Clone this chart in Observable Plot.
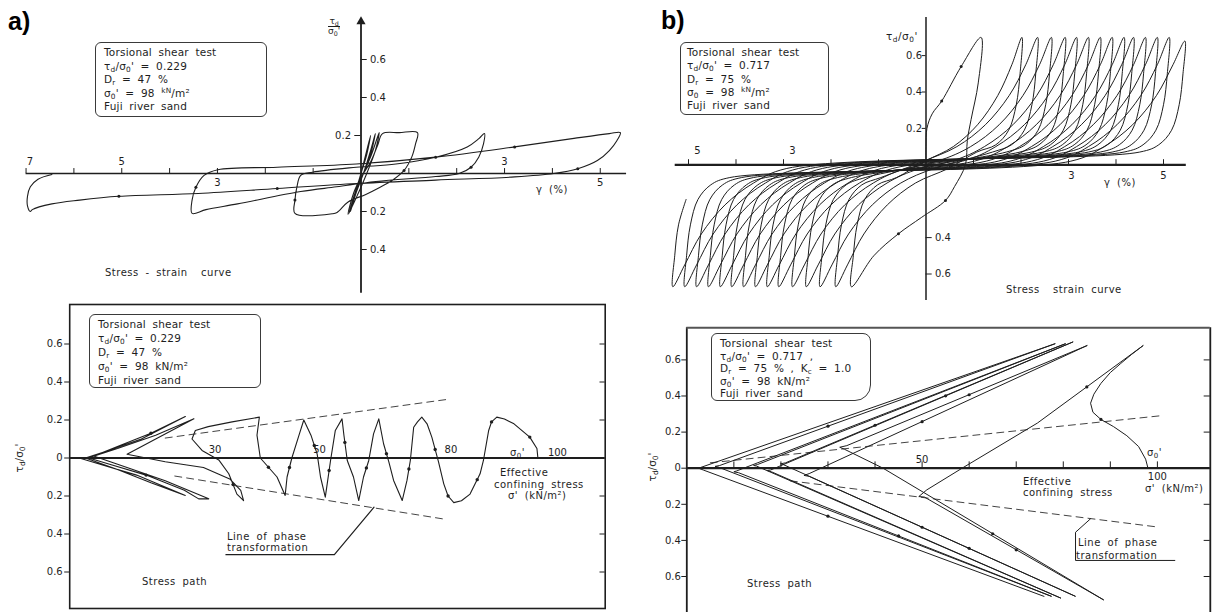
<!DOCTYPE html>
<html>
<head>
<meta charset="utf-8">
<script src="https://cdn.jsdelivr.net/npm/d3@7"></script>
<script src="https://cdn.jsdelivr.net/npm/@observablehq/plot@0.6"></script>
<style>
html, body { margin: 0; padding: 0; background: #fff; }
#fig { position: relative; width: 1215px; height: 612px; overflow: hidden; background: #fff; color: #1e1e1e; font-family: "DejaVu Sans", sans-serif; }
#fig svg { position: absolute; overflow: visible; }
.tag { position: absolute; font: bold 25px "Liberation Sans", Arial, sans-serif; color: #000; line-height: 1; }
.box { position: absolute; box-sizing: border-box; border: 1.3px solid #3a3a3a; border-radius: 6px; font-size: 10.5px; line-height: 13.6px; padding: 3px 0 0 8px; word-spacing: 3px; letter-spacing: 0.2px; white-space: nowrap; background: #fff; }
.lbl { position: absolute; font-size: 10px; white-space: nowrap; line-height: 1; letter-spacing: 0.5px; word-spacing: 3px; transform: translateY(-50%); }
.rot { position: absolute; font-size: 10.5px; white-space: nowrap; line-height: 1; transform: translate(-50%, -50%) rotate(-90deg); }
.frac { position: absolute; font-size: 9px; line-height: 9px; text-align: center; }
.frac .den { border-top: 1px solid #1e1e1e; }
sub, sup { font-size: 70%; line-height: 0; }
sub { vertical-align: -2px; }
sup { vertical-align: 4px; }
</style>
</head>
<body>
<div id="fig">
  <div class="tag" style="left:8px;top:9px">a)</div>
  <div class="tag" style="left:661px;top:8px">b)</div>

  <div class="box" style="left:95px;top:42px;width:172px;height:75px">
    Torsional shear test<br>τ<sub>d</sub>/σ<sub>0</sub>' = 0.229<br>D<sub>r</sub> = 47 %<br>σ<sub>0</sub>' = 98 <sup>kN</sup>/m²<br>Fuji river sand
  </div>
  <div class="box" style="left:680px;top:42px;width:149px;height:73px;line-height:13.3px;padding-left:6px">
    Torsional shear test<br>τ<sub>d</sub>/σ<sub>0</sub>' = 0.717<br>D<sub>r</sub> = 75 %<br>σ<sub>0</sub> = 98 <sup>kN</sup>/m²<br>Fuji river sand
  </div>
  <div class="box" style="left:89px;top:314px;width:172px;height:74px;line-height:13.9px">
    Torsional shear test<br>τ<sub>d</sub>/σ<sub>0</sub>' = 0.229<br>D<sub>r</sub> = 47 %<br>σ<sub>0</sub>' = 98 kN/m²<br>Fuji river sand
  </div>
  <div class="box" style="left:711px;top:333px;width:160px;height:68px;line-height:12.6px;border-radius:6px 8px 16px 6px">
    Torsional shear test<br>τ<sub>d</sub>/σ<sub>0</sub>' = 0.717 ,<br>D<sub>r</sub> = 75 % , K<sub>c</sub> = 1.0<br>σ<sub>0</sub>' = 98 kN/m²<br>Fuji river sand
  </div>

  <div class="frac" style="left:328px;top:17px"><div>τ<sub>d</sub></div><div class="den">σ<sub>0</sub>'</div></div>
  <div class="lbl" style="left:886px;top:36px;font-size:10.5px">τ<sub>d</sub>/σ<sub>0</sub>'</div>
  <div class="rot" style="left:19px;top:458px">τ<sub>d</sub>/σ<sub>0</sub>'</div>
  <div class="rot" style="left:652px;top:467px">τ<sub>d</sub>/σ<sub>0</sub>'</div>

  <div class="lbl" style="left:536px;top:190px">γ (%)</div>
  <div class="lbl" style="left:1104px;top:183px">γ (%)</div>
  <div class="lbl" style="left:105px;top:273px">Stress - strain&nbsp; curve</div>
  <div class="lbl" style="left:1006px;top:290px">Stress&nbsp; strain curve</div>

  <div class="lbl" style="left:142px;top:582px">Stress path</div>
  <div class="lbl" style="left:227px;top:537px">Line of phase</div>
  <div class="lbl" style="left:227px;top:548px">transformation</div>
  <div class="lbl" style="left:500px;top:473px">Effective</div>
  <div class="lbl" style="left:494px;top:485px">confining stress</div>
  <div class="lbl" style="left:508px;top:496px">σ' (kN/m²)</div>
  <div class="lbl" style="left:510px;top:453px">σ<sub>0</sub>'</div>

  <div class="lbl" style="left:747px;top:584px">Stress path</div>
  <div class="lbl" style="left:1078px;top:543px">Line of phase</div>
  <div class="lbl" style="left:1076px;top:556px">transformation</div>
  <div class="lbl" style="left:1023px;top:482px">Effective</div>
  <div class="lbl" style="left:1023px;top:493px">confining stress</div>
  <div class="lbl" style="left:1145px;top:489px">σ' (kN/m²)</div>
  <div class="lbl" style="left:1147px;top:453px">σ<sub>0</sub>'</div>
</div>

<script>
// ---------- test a: stress-strain record (shear strain γ %, stress ratio τd/σ0') ----------
const strainCurveA = [
  [0,0],[0.1,0.1],[0.2,0.2],[0.12,0.1],[0,0],[-0.12,-0.1],[-0.22,-0.2],
  [-0.1,-0.1],[0.05,0],[0.2,0.12],[0.3,0.21],
  [0.2,0.1],[0.05,0],[-0.1,-0.1],[-0.25,-0.21],
  [-0.12,-0.1],[0.05,0],[0.22,0.1],[0.38,0.215],
  [0.3,0.12],[0.12,0],[-0.05,-0.1],[-0.27,-0.215],
  [-0.15,-0.1],[0,-0.02],[0.2,0.06],[0.35,0.15],[0.45,0.21],[0.8,0.215],[1.18,0.215],
  [1.14,0.156],[1.06,0.086],[0.9,0.016],[0.65,-0.037],[0.4,-0.072],[0.1,-0.11],[-0.27,-0.15],[-0.5,-0.205],[-0.6,-0.212],[-1.38,-0.21],
  [-1.38,-0.14],[-1.34,-0.072],[-1.26,-0.01],[-1.01,0.007],[-0.1,0.033],[0.73,0.05],[1.56,0.086],[2.22,0.14],[2.47,0.185],[2.58,0.21],
  [2.56,0.156],[2.46,0.086],[2.3,0.033],[2.05,0],[1.56,-0.016],[0.31,-0.042],[-0.51,-0.07],[-1.26,-0.095],[-2.58,-0.16],[-3.24,-0.19],[-3.53,-0.21],
  [-3.53,-0.14],[-3.45,-0.072],[-3.28,-0.01],[-2.99,0.02],[-1.75,0.033],[-0.1,0.05],[1.56,0.086],[3.21,0.14],[4.45,0.185],[5.19,0.21],[5.42,0.215],
  [5.35,0.174],[5.19,0.121],[4.94,0.068],[4.53,0.025],[4.03,0],[3.21,-0.018],[1.56,-0.035],[-0.1,-0.053],[-1.75,-0.079],[-3.4,-0.105],[-5.06,-0.12],[-5.88,-0.14],[-6.46,-0.16],[-6.87,-0.19],[-6.91,-0.2],
  [-6.97,-0.17],[-6.97,-0.12],[-6.91,-0.07],[-6.75,-0.03],[-6.46,-0.005]
];
const strainArrowsA = [[-5.06,-0.12],[-1.75,-0.079],[1.56,0.086],[3.21,0.14],[-1.38,-0.14],[2.3,0.033],[0.9,0.016],[-3.45,-0.072],[4.53,0.025]];
const strainTicksA = [-7,-6,-5,-4,-3,-2,-1,1,2,3,4,5];
const strainLabelsAbove = [-7,-5,3];
const strainLabelsBelow = [-3,5];
const ratioTicksRightA = [0.6,0.4,-0.2,-0.4];
const ratioTicksLeftA = [0.2];

// ---------- test b: stress-strain record ----------
const firstLoadingB = [[0,0],[0,0.1],[0.02,0.2],[0.13,0.28],[0.33,0.35],[0.74,0.54],[1.16,0.70]];
const firstUnloadingB = [[1.16,0.70],[1.1,0.45],[0.95,0.25],[0.87,0.134],[0.83,0],[0.6,-0.12],[0.41,-0.196],[-0.1,-0.29],[-0.58,-0.379],[-1.1,-0.5],[-1.57,-0.67]];
const peakStrainB   = [1.16, 2.02, 2.35, 2.64, 2.93, 3.17, 3.42, 3.67, 3.92, 4.17, 4.37, 4.62, 4.87, 5.12, 5.45];
const peakRatioB    = [0.70, 0.70, 0.70, 0.70, 0.70, 0.70, 0.70, 0.70, 0.70, 0.70, 0.70, 0.70, 0.70, 0.70, 0.68];
const troughStrainB = [-1.57, -1.90, -2.23, -2.52, -2.81, -3.10, -3.34, -3.59, -3.84, -4.09, -4.33, -4.58, -4.83, -5.08, -5.33];
const troughRatioB  = [-0.67, -0.67, -0.67, -0.67, -0.67, -0.67, -0.67, -0.67, -0.67, -0.67, -0.67, -0.67, -0.67, -0.67, -0.67];
// shape of one half-cycle: stiff unloading after a reversal, flow near zero stress, stiffening into the next reversal
const unloadStepB   = [0, 0.04, 0.12, 0.28, 0.55, 0.95];
const unloadRatioB  = [null, 0.50, 0.33, 0.19, 0.11, 0.07];
const stiffenStepB  = [2.4, 1.7, 1.1, 0.6, 0.25, 0];
const stiffenRatioB = [0.02, 0.10, 0.22, 0.38, 0.55, null];
const strainArrowsB = [[0.33,0.35],[-0.58,-0.379],[0.41,-0.196],[0.74,0.54]];
const strainTicksB = [-5,-4,-3,-2,-1,1,2,3,4,5];
const strainLabelsAboveB = [-5,-3];
const strainLabelsBelowB = [3,5];
const ratioTicksLeftB = [0.6,0.4,0.2];
const ratioTicksRightB = [-0.4,-0.6];

// ---------- test a: effective stress path (σ' kN/m², τd/σ0') ----------
const stressPathA = [
  [98,0],[97.8,0.05],[96.3,0.11],[93,0.18],[91,0.205],[89.4,0.215],
  [88.3,0.19],[87.7,0.145],[86.6,-0.013],[85.9,-0.083],[83.8,-0.19],[82,-0.225],[80.4,-0.235],
  [79.2,-0.2],[78.3,-0.136],[77.2,-0.02],[75.8,0.11],[74.8,0.18],[73.7,0.215],
  [72.8,0.19],[72,0.162],[71.3,-0.013],[70.6,-0.118],[69.6,-0.224],
  [67.8,-0.118],[66.8,-0.02],[65.7,0.075],[64.7,0.206],
  [63.6,0.127],[62.6,-0.013],[61.5,-0.1],[60.5,-0.224],
  [59.4,-0.1],[58.1,-0.013],[57.4,0.12],[57,0.206],
  [55.6,0.145],[54.6,-0.013],[53.9,-0.136],[53.5,-0.206],
  [52.5,-0.1],[51.8,0.02],[50.5,0.12],[49,0.2],
  [48,0.12],[46.5,0],[45.5,-0.1],[45.1,-0.197],
  [43.4,-0.1],[39.9,0],[39.2,0.12],[39.7,0.215],
  [34,0.19],[29,0.165],[26.3,0.145],[25.6,0.1],[27.7,0.04],[31.2,-0.01],[33.3,-0.083],[35,-0.19],[36.4,-0.224],
  [35.8,-0.17],[33.5,-0.11],[28,-0.05],[20,-0.02],[12,0.02],[18,0.1],[26,0.206],
  [18,0.12],[10,0.05],[5,0.01],[12,-0.05],[20,-0.12],[29.1,-0.215],
  [27,-0.215],[24,-0.17],[16,-0.09],[8,-0.03],[4,0],[10,0.06],[17,0.13],[24.2,0.218],
  [15,0.1],[7,0.03],[3.3,0],[10,-0.06],[17,-0.13],[24.2,-0.197],
  [14,-0.09],[6,-0.03],[2,0],[0,0]
];
const pathArrowsA = [[96.3,0.11],[85.3,-0.114],[76.5,0.045],[71,-0.058],[66.3,0.023],[62.1,-0.052],[57.6,0.082],[54.3,-0.066],[51.2,0.066],[46,-0.05],[41.6,-0.049],[34.2,-0.14],[16,-0.09],[17,0.13],[88.3,0.19],[79.2,-0.2]];
const phaseLineUpperA = [[20,0.105],[79.5,0.31]];
const phaseLineLowerA = [[22,-0.095],[78,-0.32]];
const phaseLeaderA = [[32.7,-0.509],[55.4,-0.509],[63.7,-0.259]];
const pathTicksYA = [0.6,0.4,0.2,0,-0.2,-0.4,-0.6];
const pathLabelsXA = [30,50,80,100];

// ---------- test b: effective stress path ----------
const stressPathB = [
  [98,0],[97.5,0.05],[96,0.12],[93.5,0.18],[90.7,0.23],[88,0.27],[86.3,0.31],[85.8,0.36],[86.5,0.41],[88,0.47],[90,0.53],[92.2,0.58],[94.5,0.63],[97,0.68],
  [74.5,0.25],[58.5,0],[51,-0.12],[49.3,-0.157],[50.5,-0.16],[88.6,-0.73],
  [41.7,0],[33.5,0.105],[32.5,0.116],[34,0.125],[85.1,0.68],
  [26,-0.03],[24.9,-0.04],[26,-0.045],[82.6,-0.71],
  [20.5,0.02],[19.9,0.024],[21,0.03],[82.1,0.70],
  [17.8,-0.01],[17.1,-0.013],[18,-0.02],[79.5,-0.72],
  [14.8,0.012],[14.2,0.015],[15,0.02],[80.5,0.69],
  [10.6,-0.015],[10,-0.02],[11,-0.025],[77.5,-0.71],
  [6.5,0.008],[6,0.01],[7,0.015],[78.3,0.69],
  [2.5,0],[3.5,-0.01],[75.9,-0.71]
];
const pathArrowsB = [[60,0.407],[50,0.258],[40,0.238],[55,0.401],[30,0.233],[70,-0.452],[65,-0.363],[50,-0.327],[60,-0.444],[45,-0.375],[30,-0.266],[85,0.45],[88,0.27]];
const phaseLineUpperB = [[5,0.03],[100.5,0.29]];
const phaseLineLowerB = [[22,-0.07],[100.4,-0.327]];
const phaseLeaderB = [[85.8,-0.28],[82.6,-0.355],[82.6,-0.511],[103.7,-0.511]];
const pathTicksYB = [0.6,0.4,0.2,0,-0.2,-0.4,-0.6];
const pathTicksXB = [10,20,30,40,50,60,70,80,90,100];
const pathLabelsXB = [50,100];

// ---------- drawing ----------
const fig = document.getElementById("fig");
const ink = "#1e1e1e";
const px = d => d[0], py = d => d[1];
const absFmt = d => d === 0 ? "0" : Math.abs(d).toFixed(1);
const plotStyle = {background: "transparent", fontFamily: "DejaVu Sans, sans-serif", fontSize: "10px", color: ink, overflow: "visible"};

function put(svg, left, top) {
  svg.style.left = left + "px";
  svg.style.top = top + "px";
  fig.append(svg);
}
// scales for a panel whose origin sits at (ox, oy) inside a w×h svg, with kx, ky pixels per unit
function originScales(w, h, ox, oy, kx, ky) {
  return {
    x: {type: "linear", domain: [-ox / kx, (w - ox) / kx], range: [0, w], axis: null},
    y: {type: "linear", domain: [(oy - h) / ky, oy / ky], range: [h, 0], axis: null}
  };
}
// one text mark per tick value along the horizontal axis, each nudged by its own offset
function axisLabels(values, dxOf, dyOf) {
  return values.map(v => Plot.text([v], {x: d => d, y: 0, text: d => String(Math.abs(d)), dx: dxOf(v), dy: dyOf(v), fill: ink}));
}

// one half-cycle of test b, from reversal (g0,t0) to reversal (g1,t1)
function halfCycle(g0, t0, g1, t1) {
  const dir = Math.sign(g1 - g0), s = Math.sign(t0);
  const pts = unloadStepB.map((d, i) => [g0 + dir * d, i === 0 ? t0 : s * unloadRatioB[i]]);
  const room = Math.abs(g1 - g0) - unloadStepB[unloadStepB.length - 1] - 0.6;
  const k = Math.max(0.3, Math.min(1, room / stiffenStepB[0]));
  stiffenStepB.forEach((d, i) => pts.push([g1 - dir * d * k, i === stiffenStepB.length - 1 ? t1 : -s * stiffenRatioB[i]]));
  return pts;
}
const strainCurveB = [...firstLoadingB, ...firstUnloadingB.slice(1)];
for (let i = 1; i < peakStrainB.length; i++) {
  strainCurveB.push(...halfCycle(troughStrainB[i - 1], troughRatioB[i - 1], peakStrainB[i], peakRatioB[i]).slice(1));
  strainCurveB.push(...halfCycle(peakStrainB[i], peakRatioB[i], troughStrainB[i], troughRatioB[i]).slice(1));
}
{
  const n = troughStrainB.length - 1;
  unloadStepB.slice(1, 4).forEach((d, i) => strainCurveB.push([troughStrainB[n] + d, -unloadRatioB[i + 1]]));
}

// panel a, stress-strain
{
  const s = originScales(640, 300, 360.5, 173, 47.85, 190);
  put(Plot.plot({
    width: 640, height: 300, margin: 0, style: plotStyle, ...s,
    marks: [
      Plot.ruleY([0], {x1: -7.0, x2: 5.55, stroke: ink, strokeWidth: 1.4}),
      Plot.ruleX([0], {y1: -0.63, y2: 0.79, stroke: ink, strokeWidth: 1.8}),
      Plot.dot([[0, 0.8]], {x: px, y: py, symbol: "triangle", r: 3.4, fill: ink, stroke: "none"}),
      Plot.ruleX(strainTicksA, {y1: 0, y2: 0.026, stroke: ink, strokeWidth: 1}),
      Plot.ruleY(ratioTicksRightA, {x1: 0, x2: 0.13, stroke: ink, strokeWidth: 1}),
      Plot.ruleY(ratioTicksLeftA, {x1: -0.13, x2: 0, stroke: ink, strokeWidth: 1}),
      Plot.text(ratioTicksRightA, {x: 0, y: d => d, text: absFmt, dx: 9, textAnchor: "start", fill: ink}),
      Plot.text(ratioTicksLeftA, {x: 0, y: d => d, text: absFmt, dx: -10, textAnchor: "end", fill: ink}),
      ...axisLabels(strainLabelsAbove, v => v === -7 ? 4 : 0, () => -12),
      ...axisLabels(strainLabelsBelow, () => 0, () => 9),
      Plot.line(strainCurveA, {x: px, y: py, stroke: ink, strokeWidth: 1.1, curve: "catmull-rom"}),
      Plot.dot(strainArrowsA, {x: px, y: py, r: 1.5, fill: ink, stroke: "none"})
    ]
  }), 0, 0);
}

// panel b, stress-strain
{
  const s = originScales(575, 305, 285.5, 164.3, 47.5, 182);
  put(Plot.plot({
    width: 575, height: 305, margin: 0, style: plotStyle, ...s,
    marks: [
      Plot.line(strainCurveB, {x: px, y: py, stroke: ink, strokeWidth: 1, curve: "catmull-rom"}),
      Plot.dot(strainArrowsB, {x: px, y: py, r: 1.5, fill: ink, stroke: "none"}),
      Plot.ruleY([0], {x1: -5.28, x2: 5.48, stroke: ink, strokeWidth: 2.2}),
      Plot.ruleX([0], {y1: -0.746, y2: 0.809, stroke: ink, strokeWidth: 1.5}),
      Plot.ruleX(strainTicksB, {y1: 0, y2: 0.028, stroke: ink, strokeWidth: 1}),
      Plot.ruleY(ratioTicksLeftB, {x1: -0.08, x2: 0, stroke: ink, strokeWidth: 1}),
      Plot.ruleY(ratioTicksRightB, {x1: 0, x2: 0.13, stroke: ink, strokeWidth: 1}),
      Plot.text(ratioTicksLeftB, {x: 0, y: d => d, text: absFmt, dx: -4, textAnchor: "end", fill: ink}),
      Plot.text(ratioTicksRightB, {x: 0, y: d => d, text: absFmt, dx: 9, textAnchor: "start", fill: ink}),
      ...axisLabels(strainLabelsAboveB, () => 9, () => -14),
      ...axisLabels(strainLabelsBelowB, v => v === 3 ? 3 : 0, () => 11)
    ]
  }), 640, 0);
}

// panel a, stress path
{
  put(Plot.plot({
    width: 620, height: 322, marginLeft: 69.2, marginRight: 15.3, marginTop: 14, marginBottom: 4, style: plotStyle,
    x: {type: "linear", domain: [0, 112.09], axis: null},
    y: {type: "linear", domain: [-0.7921, 0.8079], axis: null},
    marks: [
      Plot.frame({stroke: ink, strokeWidth: 1.6}),
      Plot.axisY({ticks: pathTicksYA, tickFormat: absFmt, tickSize: 5, tickPadding: 2, label: null, fontSize: 10}),
      Plot.ruleY(pathTicksYA, {x1: 111, x2: 112.09, stroke: ink, strokeWidth: 1}),
      Plot.ruleY([0], {stroke: ink, strokeWidth: 2.2}),
      Plot.line(phaseLineUpperA, {x: px, y: py, stroke: "#444", strokeWidth: 1, strokeDasharray: "7,5"}),
      Plot.line(phaseLineLowerA, {x: px, y: py, stroke: "#444", strokeWidth: 1, strokeDasharray: "7,5"}),
      Plot.line(phaseLeaderA, {x: px, y: py, stroke: ink, strokeWidth: 1.2}),
      Plot.line(stressPathA, {x: px, y: py, stroke: ink, strokeWidth: 1.1}),
      Plot.dot(pathArrowsA, {x: px, y: py, r: 1.7, fill: ink, stroke: "none"}),
      ...axisLabels(pathLabelsXA, v => ({30: 2, 50: 11, 80: -1, 100: 10})[v], v => v === 100 ? -5 : -8)
    ]
  }), 0, 290);
}

// panel b, stress path
{
  const top = 0.7778, right = 111.24, bottom = -0.7994;
  put(Plot.plot({
    width: 615, height: 322, marginLeft: 86.3, marginRight: 5.2, marginTop: 37.3, marginBottom: 0, style: plotStyle,
    x: {type: "linear", domain: [0, right], axis: null},
    y: {type: "linear", domain: [bottom, top], axis: null},
    marks: [
      Plot.ruleX([0, right], {y1: bottom, y2: top, stroke: ink, strokeWidth: 1.8}),
      Plot.ruleY([top], {x1: 0, x2: right, stroke: "#555", strokeWidth: 2}),
      Plot.axisY({ticks: pathTicksYB, tickFormat: absFmt, tickSize: 5, tickPadding: 1, label: null, fontSize: 10}),
      Plot.ruleY(pathTicksYB, {x1: right - 1.3, x2: right, stroke: ink, strokeWidth: 1}),
      Plot.ruleY([0], {x1: 0, x2: right, stroke: ink, strokeWidth: 2.2}),
      Plot.ruleX(pathTicksXB, {y1: 0, y2: 0.035, stroke: ink, strokeWidth: 1}),
      Plot.line(phaseLineUpperB, {x: px, y: py, stroke: "#444", strokeWidth: 1, strokeDasharray: "7,5"}),
      Plot.line(phaseLineLowerB, {x: px, y: py, stroke: "#444", strokeWidth: 1, strokeDasharray: "7,5"}),
      Plot.line(phaseLeaderB, {x: px, y: py, stroke: ink, strokeWidth: 1}),
      Plot.line(stressPathB, {x: px, y: py, stroke: ink, strokeWidth: 1}),
      Plot.dot(pathArrowsB, {x: px, y: py, r: 1.6, fill: ink, stroke: "none"}),
      ...axisLabels(pathLabelsXB, () => 0, v => v === 100 ? 9 : -8)
    ]
  }), 600, 290);
}
</script>
</body>
</html>
